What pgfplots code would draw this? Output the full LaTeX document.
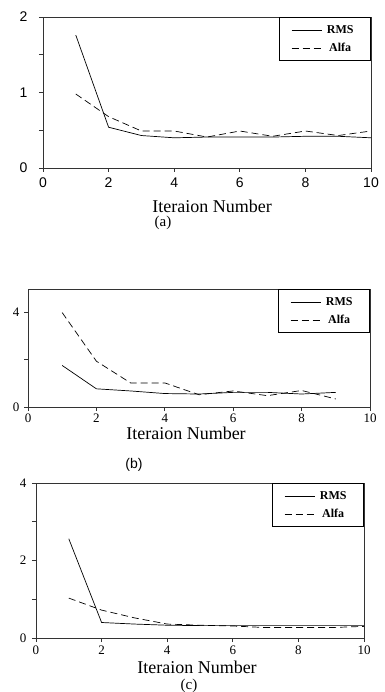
\documentclass[border=0pt]{standalone}
\usepackage{fontspec}
\setmainfont{Liberation Serif}
\setsansfont{Liberation Sans}
\usepackage{pgfplots}
\pgfplotsset{compat=1.18}
\pgfplotsset{
  panel/.style={
    scale only axis, anchor=south west,
    xmin=0, xmax=10, xtick={0,2,...,10},
    tick align=outside, tick pos=left,
    major tick length=4pt,
    axis line style={line width=0.8pt, draw=black!80},
    every tick/.style={line width=0.7pt, draw=black!80},
    /pgf/number format/assume math mode=true,
    legend cell align=center,
    legend image code/.code={\draw[##1] (0pt,0pt) -- (30pt,0pt);},
    legend style={at={(1,1)}, anchor=north east, draw=black, line width=0.9pt,
      font=\bfseries\fontsize{12}{12}\selectfont,
      inner xsep=12pt, inner ysep=6pt, row sep=4pt,
      nodes={inner xsep=5pt}},
  },
  rms/.style={black, line width=0.7pt},
  alfa/.style={black, line width=0.7pt, dash pattern=on 7pt off 4pt},
}
\begin{document}
\begin{tikzpicture}[x=1pt,y=1pt]
\useasboundingbox (0,0) rectangle (384,-692);

% ---------- panel (a)
\begin{axis}[panel, at={(43pt,-168pt)}, width=328pt, height=151pt,
  ymin=0, ymax=2, ytick={0,0.5,1,1.5,2}, yticklabels={0,,1,,2},
  tick label style={font=\sffamily\fontsize{14}{14}\selectfont},
  yticklabel style={xshift=-8pt}, xticklabel style={yshift=-2pt}]
\addplot[rms] coordinates {(1,1.76) (2,0.54) (3,0.43) (4,0.40) (5,0.41) (6,0.41) (7,0.41) (8,0.42) (9,0.42) (10,0.40)};
\addplot[alfa] coordinates {(1,0.98) (2,0.68) (3,0.49) (4,0.49) (5,0.41) (6,0.49) (7,0.42) (8,0.49) (9,0.43) (10,0.49)};
\legend{RMS, Alfa}
\end{axis}
\node[font=\fontsize{18}{18}\selectfont] at (212,-206) {Iteraion Number};
\node[font=\fontsize{15}{15}\selectfont] at (163,-223) {(a)};

% ---------- panel (b)
\begin{axis}[panel, at={(28pt,-407pt)}, width=342pt, height=118pt,
  ymin=0, ymax=5, ytick={0,2,4}, yticklabels={0,,4},
  tick label style={font=\fontsize{13}{13}\selectfont},
  yticklabel style={xshift=-1pt}, xticklabel style={yshift=1pt}]
\addplot[rms] coordinates {(1,1.76) (2,0.77) (3,0.68) (4,0.57) (5,0.55) (6,0.62) (7,0.62) (8,0.55) (9,0.62)};
\addplot[alfa] coordinates {(1,4.0) (2,1.94) (3,1.02) (4,1.02) (5,0.52) (6,0.68) (7,0.48) (8,0.70) (9,0.34)};
\legend{RMS, Alfa}
\end{axis}
\node[font=\fontsize{18}{18}\selectfont] at (186,-433) {Iteraion Number};
\node[font=\sffamily\fontsize{14}{14}\selectfont] at (134,-465) {(b)};

% ---------- panel (c)
\begin{axis}[panel, at={(36pt,-638pt)}, width=328pt, height=155pt,
  ymin=0, ymax=4, ytick={0,1,2,3,4}, yticklabels={0,,2,,4},
  tick label style={font=\fontsize{13}{13}\selectfont},
  yticklabel style={xshift=-2pt}, xticklabel style={yshift=0pt}]
\addplot[rms] coordinates {(1,2.56) (2,0.40) (3,0.36) (4,0.33) (5,0.32) (6,0.32) (7,0.32) (8,0.32) (9,0.32) (10,0.32)};
\addplot[alfa] coordinates {(1,1.03) (2,0.72) (3,0.52) (4,0.36) (5,0.33) (6,0.31) (7,0.27) (8,0.27) (9,0.27) (10,0.30)};
\legend{RMS, Alfa}
\end{axis}
\node[font=\fontsize{18}{18}\selectfont] at (197,-667) {Iteraion Number};
\node[font=\fontsize{15}{15}\selectfont] at (189,-686) {(c)};
\end{tikzpicture}
\end{document}
